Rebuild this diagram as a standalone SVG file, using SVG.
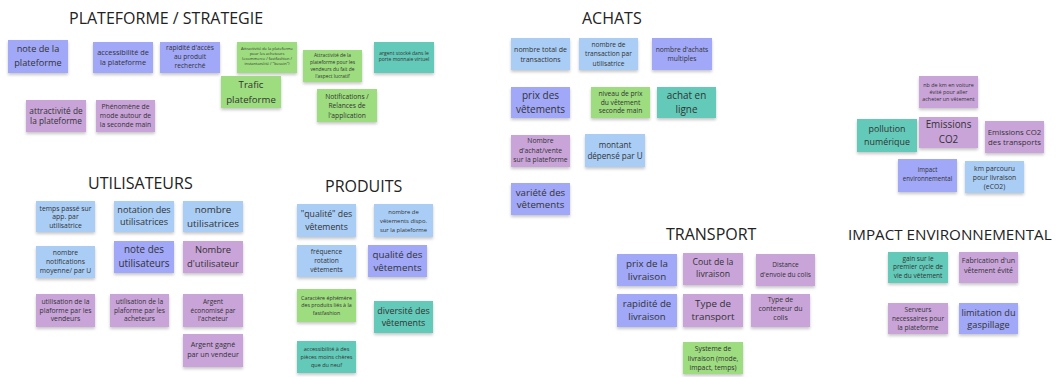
<svg xmlns="http://www.w3.org/2000/svg" width="1058" height="377" viewBox="0 0 1058 377">
<defs>
<filter id="sh" x="-10%" y="-10%" width="120%" height="140%">
<feDropShadow dx="0" dy="2" stdDeviation="1.4" flood-color="#000" flood-opacity="0.22"/>
</filter>
</defs>
<style>
.n{filter:url(#sh)}
.lb{fill:#a9cdf5}
.bp{fill:#a1a8f8}
.pu{fill:#c9a4d9}
.gr{fill:#9edc80}
.te{fill:#63c9b8}
.t{font-family:"Open Sans","Liberation Sans",sans-serif;fill:#333;text-anchor:middle}
.h{font-family:"Open Sans","Liberation Sans",sans-serif;fill:#222;font-size:16px}
</style>
<rect width="1058" height="377" fill="#fff"/>
<g id="headers">
<text class="h" x="69" y="24">PLATEFORME / STRATEGIE</text>
<text class="h" x="582" y="24">ACHATS</text>
<text class="h" x="88" y="189">UTILISATEURS</text>
<text class="h" x="325" y="192">PRODUITS</text>
<text class="h" x="666" y="240">TRANSPORT</text>
<text class="h" x="848" y="240" style="font-size:15.2px">IMPACT ENVIRONNEMENTAL</text>
</g>
<g id="connectors"/>
<g id="n1"><rect class="n bp" x="8" y="40" width="60" height="33"/><text class="t" font-size="9.2" y="52.1"><tspan x="38">note de la</tspan><tspan x="38" dy="13.7">plateforme</tspan></text></g>
<g id="n2"><rect class="n bp" x="93" y="42" width="60" height="31"/><text class="t" font-size="7.4" y="55.2"><tspan x="123">accessibilité de</tspan><tspan x="123" dy="10">la plateforme</tspan></text></g>
<g id="n3"><rect class="n bp" x="160" y="42" width="60" height="31"/><text class="t" font-size="6.6" y="49.5"><tspan x="190">rapidité d'accès</tspan><tspan x="190" dy="9.3">au produit</tspan><tspan x="190" dy="9.3">recherché</tspan></text></g>
<g id="n4"><rect class="n pu" x="26" y="100" width="60" height="32"/><text class="t" font-size="8.3" y="113.5"><tspan x="56">attractivité de</tspan><tspan x="56" dy="10.5">la plateforme</tspan></text></g>
<g id="n5"><rect class="n pu" x="96" y="100" width="59" height="32"/><text class="t" font-size="6.8" y="109"><tspan x="125.5">Phénomène de</tspan><tspan x="125.5" dy="9.2">mode autour de</tspan><tspan x="125.5" dy="9.2">la seconde main</tspan></text></g>
<g id="n6"><rect class="n gr" x="237" y="42" width="60" height="31"/><text class="t" font-size="4" y="50.4"><tspan x="267">Attractivité de la plateforme</tspan><tspan x="267" dy="5">pour les acheteurs</tspan><tspan x="267" dy="5">(ecommerce / fastfashion /</tspan><tspan x="267" dy="5">instantanéité / "besoin")</tspan></text></g>
<g id="n7"><rect class="n gr" x="221" y="76" width="60" height="32"/><text class="t" font-size="9.6" y="88.3"><tspan x="251">Trafic</tspan><tspan x="251" dy="14.3">plateforme</tspan></text></g>
<g id="n8"><rect class="n gr" x="303" y="50" width="59" height="32"/><text class="t" font-size="4.9" y="57.4"><tspan x="332.5">Attractivité de la</tspan><tspan x="332.5" dy="6.8">plateforme pour les</tspan><tspan x="332.5" dy="6.8">vendeurs du fait de</tspan><tspan x="332.5" dy="6.8">l'aspect lucratif</tspan></text></g>
<g id="n9"><rect class="n gr" x="317" y="89" width="60" height="33"/><text class="t" font-size="6.7" y="99"><tspan x="347">Notifications /</tspan><tspan x="347" dy="9.3">Relances de</tspan><tspan x="347" dy="9.3">l'application</tspan></text></g>
<g id="n10"><rect class="n te" x="374" y="42" width="60" height="31"/><text class="t" font-size="5" y="55"><tspan x="404">argent stocké dans le</tspan><tspan x="404" dy="6">porte monnaie virtuel</tspan></text></g>
<g id="n11"><rect class="n lb" x="511" y="38" width="59" height="32"/><text class="t" font-size="7" y="51.7"><tspan x="540.5">nombre total de</tspan><tspan x="540.5" dy="10">transactions</tspan></text></g>
<g id="n12"><rect class="n lb" x="579" y="38" width="59" height="32"/><text class="t" font-size="6.6" y="47.2"><tspan x="608.5">nombre de</tspan><tspan x="608.5" dy="9.2">transaction par</tspan><tspan x="608.5" dy="9.2">utilisatrice</tspan></text></g>
<g id="n13"><rect class="n bp" x="652" y="38" width="60" height="32"/><text class="t" font-size="6.7" y="51.6"><tspan x="682">nombre d'achats</tspan><tspan x="682" dy="9.4">multiples</tspan></text></g>
<g id="n14"><rect class="n bp" x="511" y="87" width="59" height="31"/><text class="t" font-size="10" y="99.1"><tspan x="540.5">prix des</tspan><tspan x="540.5" dy="13.6">vêtements</tspan></text></g>
<g id="n15"><rect class="n gr" x="591" y="87" width="59" height="31"/><text class="t" font-size="6.7" y="95.6"><tspan x="620.5">niveau de prix</tspan><tspan x="620.5" dy="8.9">du vêtement</tspan><tspan x="620.5" dy="8.9">seconde main</tspan></text></g>
<g id="n16"><rect class="n te" x="657" y="87" width="59" height="31"/><text class="t" font-size="9.9" y="99.1"><tspan x="686.5">achat en</tspan><tspan x="686.5" dy="13.6">ligne</tspan></text></g>
<g id="n17"><rect class="n pu" x="511" y="135" width="59" height="32"/><text class="t" font-size="6.8" y="143.3"><tspan x="540.5">Nombre</tspan><tspan x="540.5" dy="9.2">d'achat/vente</tspan><tspan x="540.5" dy="9.2">sur la plateforme</tspan></text></g>
<g id="n18"><rect class="n lb" x="585" y="134" width="60" height="33"/><text class="t" font-size="8.1" y="147.8"><tspan x="615">montant</tspan><tspan x="615" dy="11">dépensé par U</tspan></text></g>
<g id="n19"><rect class="n bp" x="511" y="183" width="59" height="32"/><text class="t" font-size="9.7" y="195.6"><tspan x="540.5">variété des</tspan><tspan x="540.5" dy="12.7">vêtements</tspan></text></g>
<g id="n20"><rect class="n pu" x="919" y="76" width="59" height="32"/><text class="t" font-size="5.4" y="86.8"><tspan x="948.5">nb de km en voiture</tspan><tspan x="948.5" dy="7.2">évité pour aller</tspan><tspan x="948.5" dy="7.2">acheter un vêtement</tspan></text></g>
<g id="n21"><rect class="n te" x="857" y="119" width="60" height="33"/><text class="t" font-size="8.9" y="132"><tspan x="887">pollution</tspan><tspan x="887" dy="12.7">numérique</tspan></text></g>
<g id="n22"><rect class="n pu" x="919" y="117" width="59" height="31"/><text class="t" font-size="9.9" y="128.4"><tspan x="948.5">Emissions</tspan><tspan x="948.5" dy="14.3">CO2</tspan></text></g>
<g id="n23"><rect class="n pu" x="985" y="121" width="59" height="32"/><text class="t" font-size="7.8" y="135"><tspan x="1014.5">Emissions CO2</tspan><tspan x="1014.5" dy="10">des transports</tspan></text></g>
<g id="n24"><rect class="n bp" x="898" y="159" width="59" height="33"/><text class="t" font-size="6.2" y="172.1"><tspan x="927.5">impact</tspan><tspan x="927.5" dy="9.3">environnemental</tspan></text></g>
<g id="n25"><rect class="n lb" x="965" y="161" width="59" height="32"/><text class="t" font-size="6.8" y="171.3"><tspan x="994.5">km parcouru</tspan><tspan x="994.5" dy="8.8">pour livraison</tspan><tspan x="994.5" dy="8.8">(eCO2)</tspan></text></g>
<g id="n26"><rect class="n lb" x="36" y="201" width="59" height="31"/><text class="t" font-size="6.8" y="210.6"><tspan x="65.5">temps passé sur</tspan><tspan x="65.5" dy="8.7">app. par</tspan><tspan x="65.5" dy="8.7">utilisatrice</tspan></text></g>
<g id="n27"><rect class="n lb" x="114" y="201" width="60" height="31"/><text class="t" font-size="9.1" y="213.1"><tspan x="144">notation des</tspan><tspan x="144" dy="12.3">utilisatrices</tspan></text></g>
<g id="n28"><rect class="n lb" x="183" y="201" width="60" height="31"/><text class="t" font-size="9.8" y="213.3"><tspan x="213">nombre</tspan><tspan x="213" dy="13.3">utilisatrices</tspan></text></g>
<g id="n29"><rect class="n lb" x="36" y="246" width="59" height="32"/><text class="t" font-size="6.8" y="254.6"><tspan x="65.5">nombre</tspan><tspan x="65.5" dy="9.2">notifications</tspan><tspan x="65.5" dy="9.2">moyenne/ par U</tspan></text></g>
<g id="n30"><rect class="n bp" x="114" y="241" width="60" height="32"/><text class="t" font-size="9.9" y="253.4"><tspan x="144">note des</tspan><tspan x="144" dy="14">utilisateurs</tspan></text></g>
<g id="n31"><rect class="n pu" x="183" y="241" width="60" height="32"/><text class="t" font-size="9.4" y="253.2"><tspan x="213">Nombre</tspan><tspan x="213" dy="13.3">d'utilisateur</tspan></text></g>
<g id="n32"><rect class="n pu" x="36" y="294" width="59" height="33"/><text class="t" font-size="6.8" y="304"><tspan x="65.5">utilisation de la</tspan><tspan x="65.5" dy="8.7">plaforme par les</tspan><tspan x="65.5" dy="8.7">vendeurs</tspan></text></g>
<g id="n33"><rect class="n pu" x="110" y="294" width="59" height="33"/><text class="t" font-size="6.7" y="304"><tspan x="139.5">utilisation de la</tspan><tspan x="139.5" dy="8.7">plaforme par les</tspan><tspan x="139.5" dy="8.7">acheteurs</tspan></text></g>
<g id="n34"><rect class="n pu" x="183" y="294" width="60" height="33"/><text class="t" font-size="6.5" y="303.9"><tspan x="213">Argent</tspan><tspan x="213" dy="8.7">économisé par</tspan><tspan x="213" dy="8.7">l'acheteur</tspan></text></g>
<g id="n35"><rect class="n pu" x="183" y="334" width="60" height="33"/><text class="t" font-size="7.2" y="347.4"><tspan x="213">Argent gagné</tspan><tspan x="213" dy="10">par un vendeur</tspan></text></g>
<g id="n36"><rect class="n lb" x="297" y="204" width="59" height="33"/><text class="t" font-size="8.7" y="217.3"><tspan x="326.5">"qualité" des</tspan><tspan x="326.5" dy="13">vêtements</tspan></text></g>
<g id="n37"><rect class="n lb" x="374" y="204" width="59" height="33"/><text class="t" font-size="5.9" y="213.7"><tspan x="403.5">nombre de</tspan><tspan x="403.5" dy="9">vêtements dispo.</tspan><tspan x="403.5" dy="9">sur la plateforme</tspan></text></g>
<g id="n38"><rect class="n lb" x="297" y="245" width="59" height="32"/><text class="t" font-size="6.6" y="253.9"><tspan x="326.5">fréquence</tspan><tspan x="326.5" dy="9.2">rotation</tspan><tspan x="326.5" dy="9.2">vêtements</tspan></text></g>
<g id="n39"><rect class="n bp" x="368" y="245" width="59" height="32"/><text class="t" font-size="9.8" y="258.3"><tspan x="397.5">qualité des</tspan><tspan x="397.5" dy="12.7">vêtements</tspan></text></g>
<g id="n40"><rect class="n gr" x="297" y="289" width="59" height="33"/><text class="t" font-size="5.3" y="299.5"><tspan x="326.5">Caractère éphémère</tspan><tspan x="326.5" dy="7.5">des produits liés à la</tspan><tspan x="326.5" dy="7.5">fastfashion</tspan></text></g>
<g id="n41"><rect class="n te" x="374" y="301" width="59" height="32"/><text class="t" font-size="8.9" y="314"><tspan x="403.5">diversité des</tspan><tspan x="403.5" dy="12.3">vêtements</tspan></text></g>
<g id="n42"><rect class="n te" x="297" y="341" width="59" height="32"/><text class="t" font-size="5.5" y="350.9"><tspan x="326.5">accessibilité à des</tspan><tspan x="326.5" dy="8">pièces moins chères</tspan><tspan x="326.5" dy="8">que du neuf</tspan></text></g>
<g id="n43"><rect class="n bp" x="617" y="254" width="60" height="32"/><text class="t" font-size="9.8" y="266.6"><tspan x="647">prix de la</tspan><tspan x="647" dy="13.3">livraison</tspan></text></g>
<g id="n44"><rect class="n pu" x="683" y="253" width="60" height="32"/><text class="t" font-size="8.7" y="265.3"><tspan x="713">Cout de la</tspan><tspan x="713" dy="11.7">livraison</tspan></text></g>
<g id="n45"><rect class="n pu" x="756" y="254" width="59" height="32"/><text class="t" font-size="6.6" y="267.2"><tspan x="785.5">Distance</tspan><tspan x="785.5" dy="9.3">d'envoie du colis</tspan></text></g>
<g id="n46"><rect class="n bp" x="617" y="294" width="60" height="33"/><text class="t" font-size="9.6" y="306.6"><tspan x="647">rapidité de</tspan><tspan x="647" dy="13.3">livraison</tspan></text></g>
<g id="n47"><rect class="n pu" x="683" y="294" width="60" height="33"/><text class="t" font-size="9.8" y="306.6"><tspan x="713">Type de</tspan><tspan x="713" dy="13.3">transport</tspan></text></g>
<g id="n48"><rect class="n pu" x="751" y="294" width="59" height="33"/><text class="t" font-size="7" y="302.4"><tspan x="780.5">Type de</tspan><tspan x="780.5" dy="8.9">conteneur du</tspan><tspan x="780.5" dy="8.9">colis</tspan></text></g>
<g id="n49"><rect class="n gr" x="683" y="342" width="60" height="32"/><text class="t" font-size="6.8" y="351.3"><tspan x="713">Systeme de</tspan><tspan x="713" dy="9.3">livraison (mode,</tspan><tspan x="713" dy="9.3">impact, temps)</tspan></text></g>
<g id="n50"><rect class="n te" x="888" y="252" width="60" height="31"/><text class="t" font-size="6.5" y="260.5"><tspan x="918">gain sur le</tspan><tspan x="918" dy="8.9">premier cycle de</tspan><tspan x="918" dy="8.9">vie du vêtement</tspan></text></g>
<g id="n51"><rect class="n pu" x="959" y="252" width="59" height="31"/><text class="t" font-size="7.1" y="263.1"><tspan x="988.5">Fabrication d'un</tspan><tspan x="988.5" dy="10">vêtement évité</tspan></text></g>
<g id="n52"><rect class="n pu" x="888" y="303" width="60" height="31"/><text class="t" font-size="6.6" y="312.2"><tspan x="918">Serveurs</tspan><tspan x="918" dy="8.9">necessaires pour</tspan><tspan x="918" dy="8.9">la plateforme</tspan></text></g>
<g id="n53"><rect class="n bp" x="959" y="303" width="59" height="31"/><text class="t" font-size="9.2" y="315.8"><tspan x="988.5">limitation du</tspan><tspan x="988.5" dy="12.3">gaspillage</tspan></text></g>
</svg>
